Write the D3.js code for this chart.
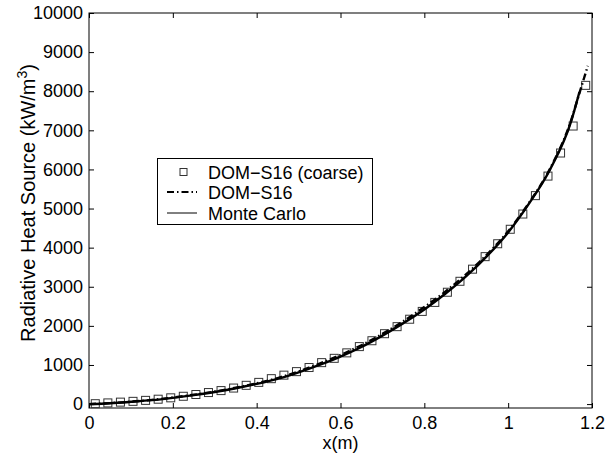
<!DOCTYPE html>
<html>
<head>
<meta charset="utf-8">
<script src="https://cdn.jsdelivr.net/npm/d3@7"></script>
<style>
  body { margin: 0; background: #fff; }
  text { font-family: "Liberation Sans", Arial, Helvetica, sans-serif; }
</style>
</head>
<body>
<script>
var width = 616, height = 466;

// coarse DOM-S16 results (squares)
var coarseX = [0.015, 0.045, 0.075, 0.105, 0.135, 0.165, 0.195, 0.225, 0.255, 0.285,
               0.315, 0.345, 0.375, 0.405, 0.435, 0.465, 0.495, 0.525, 0.555, 0.585,
               0.615, 0.645, 0.675, 0.705, 0.735, 0.765, 0.795, 0.825, 0.855, 0.885,
               0.915, 0.945, 0.975, 1.005, 1.035, 1.065, 1.095, 1.125, 1.155, 1.185];
var coarseY = [10, 30, 50, 70, 95, 125, 160, 200, 245, 295,
               345, 410, 480, 555, 650, 740, 830, 935, 1060, 1170,
               1310, 1470, 1620, 1800, 1980, 2170, 2370, 2600, 2860, 3140,
               3450, 3770, 4100, 4470, 4860, 5330, 5830, 6420, 7110, 8150];

// DOM-S16 (dash-dot)
var domX = [0, 0.05, 0.1, 0.15, 0.2, 0.25, 0.3, 0.35, 0.4, 0.45, 0.5, 0.55, 0.6,
            0.65, 0.7, 0.75, 0.8, 0.85, 0.9, 0.95, 1.0, 1.05, 1.1, 1.15, 1.17, 1.19];
var domY = [0, 25, 62, 108, 168, 238, 322, 418, 532, 665, 835, 1035, 1255,
            1505, 1795, 2120, 2480, 2875, 3320, 3830, 4420, 5150, 6020, 7250, 7950, 8650];

// Monte Carlo (solid)
var mcX = [0, 0.05, 0.1, 0.15, 0.2, 0.25, 0.3, 0.35, 0.4, 0.45, 0.5, 0.55, 0.6,
           0.65, 0.7, 0.75, 0.8, 0.85, 0.9, 0.95, 1.0, 1.05, 1.1, 1.15, 1.17];
var mcY = [0, 22, 58, 100, 160, 230, 310, 405, 515, 645, 810, 1000, 1215,
           1460, 1750, 2070, 2420, 2820, 3270, 3790, 4390, 5130, 6000, 7220, 7980];

var xTicks = [0, 0.2, 0.4, 0.6, 0.8, 1, 1.2];
var yTicks = [0, 1000, 2000, 3000, 4000, 5000, 6000, 7000, 8000, 9000, 10000];
var legendLabels = ["DOM\u2212S16 (coarse)", "DOM\u2212S16", "Monte Carlo"];

var plotL = 89, plotR = 592, plotT = 13, plotB = 408;

var x = d3.scaleLinear().domain([0, 1.2]).range([plotL, plotR]);
var y = d3.scaleLinear().domain([-100, 10000]).range([plotB, plotT]);

var svg = d3.select("body").append("svg")
    .attr("width", width)
    .attr("height", height);

// axes with inward ticks, MATLAB style
var fmtX = function(d) { return d === 0 ? "0" : (d === 1 ? "1" : d3.format(".1f")(d)); };

svg.append("g")
    .attr("transform", "translate(0," + plotB + ")")
    .call(d3.axisBottom(x).tickValues(xTicks).tickSize(-5).tickPadding(8).tickFormat(fmtX))
    .call(function(g) { g.select(".domain").remove(); })
    .selectAll("text").attr("font-size", 18).attr("fill", "#000");

svg.append("g")
    .attr("transform", "translate(0," + plotT + ")")
    .call(d3.axisTop(x).tickValues(xTicks).tickSize(-5).tickFormat(""))
    .call(function(g) { g.select(".domain").remove(); });

svg.append("g")
    .attr("transform", "translate(" + plotL + ",0)")
    .call(d3.axisLeft(y).tickValues(yTicks).tickSize(-5).tickPadding(6).tickFormat(d3.format("d")))
    .call(function(g) { g.select(".domain").remove(); })
    .selectAll("text").attr("font-size", 18).attr("fill", "#000");

svg.append("g")
    .attr("transform", "translate(" + plotR + ",0)")
    .call(d3.axisRight(y).tickValues(yTicks).tickSize(-5).tickFormat(""))
    .call(function(g) { g.select(".domain").remove(); });

svg.selectAll(".tick line").attr("stroke", "#000");

svg.append("rect")
    .attr("x", plotL).attr("y", plotT)
    .attr("width", plotR - plotL).attr("height", plotB - plotT)
    .attr("fill", "none").attr("stroke", "#000").attr("stroke-width", 1);

// squares
var coarse = coarseX.map(function(d, i) { return [d, coarseY[i]]; });
svg.append("g").selectAll("rect")
    .data(coarse)
  .enter().append("rect")
    .attr("x", function(d) { return x(d[0]) - 4; })
    .attr("y", function(d) { return y(d[1]) - 4; })
    .attr("width", 8).attr("height", 8)
    .attr("fill", "none")
    .attr("stroke", "#333")
    .attr("stroke-width", 1);

var line = d3.line()
    .x(function(d) { return x(d[0]); })
    .y(function(d) { return y(d[1]); })
    .curve(d3.curveMonotoneX);

var mc = mcX.map(function(d, i) { return [d, mcY[i]]; });
svg.append("path")
    .datum(mc)
    .attr("d", line)
    .attr("fill", "none")
    .attr("stroke", "#000")
    .attr("stroke-width", 2.4);

var dom = domX.map(function(d, i) { return [d, domY[i]]; });
svg.append("path")
    .datum(dom)
    .attr("d", line)
    .attr("fill", "none")
    .attr("stroke", "#000")
    .attr("stroke-width", 2.4)
    .attr("stroke-dasharray", "7,3,1.5,3");

// axis labels
svg.append("text")
    .attr("x", (plotL + plotR) / 2)
    .attr("y", 449)
    .attr("text-anchor", "middle")
    .attr("font-size", 18)
    .text("x(m)");

var yl = svg.append("text")
    .attr("transform", "translate(35,203) rotate(-90)")
    .attr("text-anchor", "middle")
    .attr("font-size", 20);
yl.append("tspan").text("Radiative Heat Source (kW/m");
yl.append("tspan").attr("dy", -8).attr("font-size", 14).text("3");
yl.append("tspan").attr("dy", 8).text(")");

// legend
var lg = svg.append("g");
lg.append("rect")
    .attr("x", 157.5).attr("y", 158.5)
    .attr("width", 215).attr("height", 66)
    .attr("fill", "#fff").attr("stroke", "#000").attr("stroke-width", 1);

var rowY = [172, 192, 213];
lg.append("rect")
    .attr("x", 180).attr("y", rowY[0] - 3.5)
    .attr("width", 7).attr("height", 7)
    .attr("fill", "none").attr("stroke", "#333");
lg.append("line")
    .attr("x1", 167).attr("x2", 197).attr("y1", rowY[1]).attr("y2", rowY[1])
    .attr("stroke", "#000").attr("stroke-width", 2)
    .attr("stroke-dasharray", "7,3,1.5,3");
lg.append("line")
    .attr("x1", 167).attr("x2", 197).attr("y1", rowY[2]).attr("y2", rowY[2])
    .attr("stroke", "#000").attr("stroke-width", 1);

lg.selectAll("text.lab")
    .data(legendLabels)
  .enter().append("text")
    .attr("class", "lab")
    .attr("x", 208)
    .attr("y", function(d, i) { return rowY[i] + 6.5; })
    .attr("font-size", 18)
    .text(function(d) { return d; });
</script>
</body>
</html>
